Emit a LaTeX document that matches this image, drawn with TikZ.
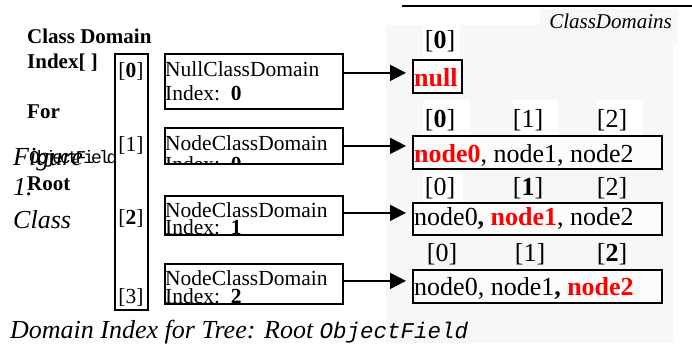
\documentclass[tikz,border=0pt]{standalone}
\usepackage{fontspec}
\setmainfont{Liberation Serif}
\setmonofont{Liberation Mono}
\newfontfamily\tightmono[LetterSpace=-17]{Liberation Mono}
\usetikzlibrary{arrows.meta,calc}

\definecolor{panelgray}{RGB}{247,247,247}
\definecolor{hot}{RGB}{255,0,0}

\newcommand{\hot}[1]{\textcolor{hot}{\textbf{#1}}}

\tikzset{
  f/.style={font=\fontsize{#1}{#1}\selectfont},
  boxline/.style={draw, line width=1.8pt, inner sep=0pt, anchor=north west},
  lbox/.style={boxline, fill=white, minimum width=178pt},
  rbox/.style={boxline, fill={rgb,255:red,252;green,252;blue,252}},
  txt/.style={anchor=base west, inner sep=0pt},
  ctxt/.style={anchor=base, inner sep=0pt},
  arr/.style={line width=1.8pt, -{Triangle[length=16pt,width=16pt]}},
}

\begin{document}
\begin{tikzpicture}[x=1pt, y=-1pt]
\useasboundingbox (0,0) rectangle (692,360);

% background panel of the domain arrays
\fill[panelgray] (386,25) rectangle (673,343);
\fill[panelgray] (540,9) rectangle (678,45);
\draw[line width=2pt] (402,6) -- (692,6);
\node[txt, anchor=base east, font=\itshape\fontsize{21}{21}\selectfont] (title) at (672,28) {ClassDomains};

% left-hand labels
\node[txt, font=\bfseries\fontsize{21}{21}\selectfont] (l1) at (27,43) {Class Domain};
\node[txt, font=\bfseries\fontsize{21}{21}\selectfont] (l2) at (27,68) {Index[ ]};
\node[txt, font=\bfseries\fontsize{21}{21}\selectfont] (l3) at (27,118) {For};
\node[txt, font=\bfseries\fontsize{21}{21}\selectfont] (l4) at (27,190) {Root};
\node[txt, font=\itshape\fontsize{26}{26}\selectfont] (fg1) at (13,165) {Figure};
\node[txt, font=\itshape\fontsize{26}{26}\selectfont] (fg2) at (13,195) {1.};
\node[txt, font=\itshape\fontsize{26}{26}\selectfont] (fg3) at (13,228) {Class};
\node[txt, font=\tightmono\fontsize{18}{18}\selectfont] (of) at (29,163) {ObjectField};

% index column
\node[boxline, minimum width=33pt, minimum height=256pt] (col) at (114,53) {};
\node[ctxt, f=21.5] (i0) at (131,77.5) {[\textbf{0}]};
\node[ctxt, f=21.5] (i1) at (131,151.5) {[1]};
\node[ctxt, f=21.5] (i2) at (131,224.5) {[\textbf{2}]};
\node[ctxt, f=21.5] (i3) at (131,303) {[3]};

% class domain boxes
\node[lbox, minimum height=55pt] (b1) at (164,53) {};
\node[lbox, minimum height=36pt] (b2) at (164,127) {};
\node[lbox, minimum height=39pt] (b3) at (164,195) {};
\node[lbox, minimum height=40pt] (b4) at (164,263) {};

\node[txt, f=21.5] (t1a) at (165,76) {NullClassDomain};
\node[txt, f=21.5] (t1b) at (165,100) {Index:\ \ \textbf{0}};
\begin{scope}
  \clip (b2.south west) rectangle (b2.north east);
  \node[txt, f=21.5] (t2a) at (165,150) {NodeClassDomain};
  \node[txt, f=21.5] (t2b) at (165,171) {Index:\ \ \textbf{0}};
\end{scope}
\begin{scope}
  \clip (b3.south west) rectangle (b3.north east);
  \node[txt, f=21.5] (t3a) at (165,217) {NodeClassDomain};
  \node[txt, f=21.5] (t3b) at (165,234) {Index:\ \ \textbf{1}};
\end{scope}
\begin{scope}
  \clip (b4.south west) rectangle (b4.north east);
  \node[txt, f=21.5] (t4a) at (165,285) {NodeClassDomain};
  \node[txt, f=21.5] (t4b) at (165,303) {Index:\ \ \textbf{2}};
\end{scope}

% white patches under some array indices
\fill[white] (423,25) rectangle (460,58);
\fill[white] (423,100) rectangle (470,135);
\fill[white] (513,100) rectangle (558,135);
\fill[white] (597,100) rectangle (643,135);
\fill[white] (423,170) rectangle (463,202);

% array indices
\node[ctxt, f=26] (k00) at (440,48) {[\textbf{0}]};
\node[ctxt, f=26] (k10) at (440,127) {[\textbf{0}]};
\node[ctxt, f=26] (k11) at (528,127) {[1]};
\node[ctxt, f=26] (k12) at (612,127) {[2]};
\node[ctxt, f=26] (k20) at (440,195) {[0]};
\node[ctxt, f=26] (k21) at (528,195) {[\textbf{1}]};
\node[ctxt, f=26] (k22) at (612,195) {[2]};
\node[ctxt, f=26] (k30) at (442,261) {[0]};
\node[ctxt, f=26] (k31) at (530,261) {[1]};
\node[ctxt, f=26] (k32) at (612,261) {[\textbf{2}]};

% domain arrays
\node[rbox, minimum width=49pt, minimum height=33pt] (r0) at (412,59) {};
\node[rbox, minimum width=249pt, minimum height=33pt] (r1) at (412,135) {};
\node[rbox, minimum width=249pt, minimum height=32pt] (r2) at (412,202) {};
\node[rbox, minimum width=249pt, minimum height=33pt] (r3) at (412,269) {};

\node[txt, f=26] (v0) at (414,86) {\hot{null}};
\node[txt, f=26] (v1) at (414,162) {\hot{node0}, node1, node2};
\node[txt, f=26] (v2) at (414,225) {node0\textbf{,} \hot{node1}, node2};
\node[txt, f=26] (v3) at (414,295) {node0, node1\textbf{,} \hot{node2}};

% connectors
\coordinate (a0) at ([xshift=-6pt, yshift=3.5pt]r0.west);
\coordinate (a1) at ([xshift=-6pt, yshift=6.5pt]r1.west);
\coordinate (a2) at ([xshift=-6pt, yshift=6pt]r2.west);
\coordinate (a3) at ([xshift=-6pt, yshift=5.5pt]r3.west);
\draw[arr] (b1.east |- a0) -- (a0);
\draw[arr] (b2.east |- a1) -- (a1);
\draw[arr] (b3.east |- a2) -- (a2);
\draw[arr] (b4.east |- a3) -- (a3);

% caption
\node[txt, font=\itshape\fontsize{26}{26}\selectfont] (cap) at (10,338)
  {Domain Index for Tree: Root {\ttfamily\fontsize{22.5}{22.5}\selectfont ObjectField}};
\end{tikzpicture}
\end{document}
